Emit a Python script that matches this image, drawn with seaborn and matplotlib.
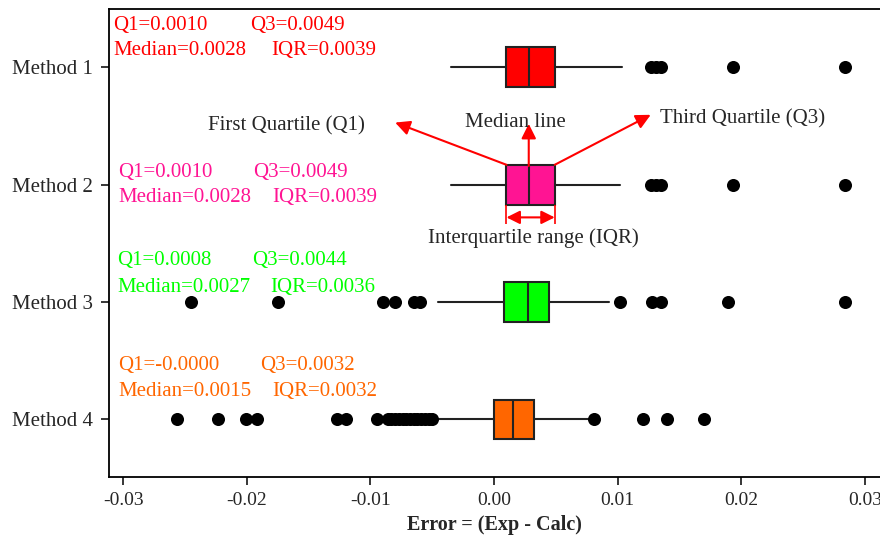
import matplotlib
matplotlib.use("Agg")
import matplotlib.pyplot as plt
import seaborn as sns
import pandas as pd

# summary values
methods = ["Method 1", "Method 2", "Method 3", "Method 4"]
q1 = [0.0010, 0.0010, 0.0008, 0.0000]
median = [0.0028, 0.0028, 0.0027, 0.0015]
q3 = [0.0049, 0.0049, 0.0044, 0.0032]
whis_lo = [-0.0035, -0.0035, -0.0045, -0.0046]
whis_hi = [0.0103, 0.0102, 0.0093, 0.0077]
q1_txt = ["0.0010", "0.0010", "0.0008", "-0.0000"]
q3_txt = ["0.0049", "0.0049", "0.0044", "0.0032"]
med_txt = ["0.0028", "0.0028", "0.0027", "0.0015"]
iqr_txt = ["0.0039", "0.0039", "0.0036", "0.0032"]

out_m1 = [0.0127, 0.0131, 0.0135, 0.0193, 0.0284]
out_m2 = [0.0127, 0.0131, 0.0135, 0.0193, 0.0284]
out_m3 = [-0.0245, -0.0175, -0.0090, -0.0080, -0.0065, -0.0060,
          0.0102, 0.0128, 0.0135, 0.0189, 0.0284]
out_m4 = [-0.0256, -0.0223, -0.0201, -0.0192, -0.0127, -0.0120, -0.0095,
          -0.0086, -0.0083, -0.0080, -0.0077, -0.0074, -0.0071, -0.0068,
          -0.0065, -0.0062, -0.0059, -0.0056, -0.0053, -0.0050,
          0.0081, 0.0120, 0.0140, 0.0170]

colors = ["#FF0000", "#FF1493", "#00FF00", "#FF6600"]

sns.set_style("white")
plt.rcParams["font.family"] = ["Liberation Serif", "DejaVu Serif"]
plt.rcParams["axes.unicode_minus"] = False

fig = plt.figure(figsize=(8.8, 5.38), dpi=100)
ax = fig.add_axes([0.1244, 0.1134, 0.8756, 0.8704])

# boxes
stats = []
for i in range(4):
    stats.append(dict(med=median[i], q1=q1[i], q3=q3[i],
                      whislo=whis_lo[i], whishi=whis_hi[i], fliers=[], label=methods[i]))
bp = ax.bxp(stats, positions=range(4), widths=0.34, orientation="horizontal",
            patch_artist=True, showfliers=False, showcaps=False,
            boxprops=dict(edgecolor="#222222", linewidth=1.5),
            medianprops=dict(color="#222222", linewidth=1.5),
            whiskerprops=dict(color="#222222", linewidth=1.5))
for patch, c in zip(bp["boxes"], colors):
    patch.set_facecolor(c)

# outliers
fl = pd.DataFrame({
    "method": ["Method 1"] * len(out_m1) + ["Method 2"] * len(out_m2)
              + ["Method 3"] * len(out_m3) + ["Method 4"] * len(out_m4),
    "error": out_m1 + out_m2 + out_m3 + out_m4,
})
sns.stripplot(data=fl, x="error", y="method", order=methods, orient="h",
              jitter=False, color="black", size=9.4, linewidth=0, ax=ax, zorder=3)

ax.set_xlim(-0.0311, 0.0312)
ax.set_ylim(3.49, -0.5)
ax.set_xticks([-0.03, -0.02, -0.01, 0.0, 0.01, 0.02, 0.03])
ax.set_xticklabels(["-0.03", "-0.02", "-0.01", "0.00", "0.01", "0.02", "0.03"])
ax.set_yticks(range(4))
ax.set_yticklabels(methods)
ax.tick_params(axis="y", labelsize=15, length=6, width=1.3, pad=6, left=True)
ax.tick_params(axis="x", labelsize=14, length=6, width=1.3, pad=5, bottom=True)
ax.set_xlabel("Error = (Exp - Calc)", fontsize=14.5, fontweight="bold", labelpad=4)
ax.set_ylabel("")
for s in ["top", "left", "bottom"]:
    ax.spines[s].set_visible(True)
    ax.spines[s].set_color("black")
    ax.spines[s].set_linewidth(1.3)
ax.spines["right"].set_visible(False)

# stat labels (x of Q1, Q3, Median, IQR; baselines of the two lines)
lab_x = [(-0.03078, -0.01971, -0.03078, -0.01805),
         (-0.03037, -0.01947, -0.03037, -0.01793),
         (-0.03049, -0.01959, -0.03049, -0.01809),
         (-0.03041, -0.01890, -0.03041, -0.01793)]
lab_y = [(-0.316, -0.108), (0.933, 1.147), (1.685, 1.913), (2.582, 2.804)]
for i in range(4):
    xs, ys, c = lab_x[i], lab_y[i], colors[i]
    kw = dict(color=c, fontsize=15, va="baseline", ha="left")
    ax.text(xs[0], ys[0], "Q1=" + q1_txt[i], **kw)
    ax.text(xs[1], ys[0], "Q3=" + q3_txt[i], **kw)
    ax.text(xs[2], ys[1], "Median=" + med_txt[i], **kw)
    ax.text(xs[3], ys[1], "IQR=" + iqr_txt[i], **kw)

# explanation arrows on Method 2
top2 = 1 - 0.17
arrow = dict(arrowstyle="-|>", color="red", lw=1.5, mutation_scale=22, shrinkA=0, shrinkB=0)
ax.annotate("", xy=(-0.0080, 0.470), xytext=(q1[1], top2), arrowprops=arrow)
ax.annotate("", xy=(median[1], 0.481), xytext=(median[1], top2 + 0.01), arrowprops=arrow)
ax.annotate("", xy=(0.01266, 0.404), xytext=(q3[1], top2), arrowprops=arrow)
ax.annotate("", xy=(q1[1], 1.278), xytext=(q3[1], 1.278),
            arrowprops=dict(arrowstyle="<|-|>", color="red", lw=1.5, mutation_scale=20,
                            shrinkA=0, shrinkB=0))
ax.vlines([q1[1], q3[1]], 1.17, 1.335, color="red", lw=1.2)

ax.text(-0.0168, 0.54, "First Quartile (Q1)", fontsize=15, ha="center", va="baseline")
ax.text(0.00175, 0.509, "Median line", fontsize=15, ha="center", va="baseline")
ax.text(0.0201, 0.475, "Third Quartile (Q3)", fontsize=15, ha="center", va="baseline")
ax.text(0.0032, 1.50, "Interquartile range (IQR)", fontsize=15, ha="center", va="baseline")

fig.savefig("out.png", dpi=100)
